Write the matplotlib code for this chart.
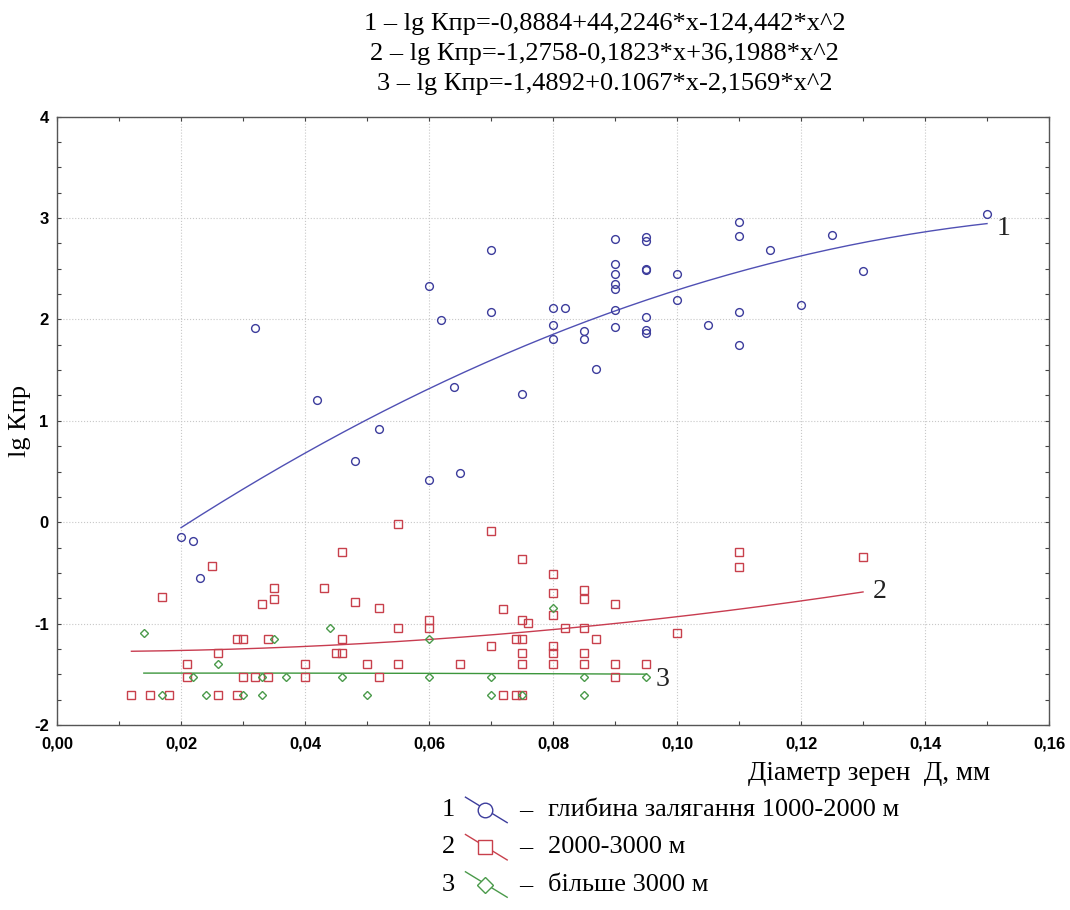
import numpy as np
import matplotlib
matplotlib.use('Agg')
import matplotlib.pyplot as plt
from matplotlib.lines import Line2D
from matplotlib.ticker import MultipleLocator, FuncFormatter

# глибина 1000-2000 м
x1 = [0.020, 0.022, 0.023, 0.032, 0.042, 0.048, 0.052, 0.060, 0.060, 0.062,
      0.064, 0.065, 0.070, 0.070, 0.075, 0.080, 0.080, 0.080, 0.082, 0.085,
      0.085, 0.087, 0.090, 0.090, 0.090, 0.090, 0.090, 0.090, 0.090, 0.095,
      0.095, 0.095, 0.095, 0.095, 0.095, 0.095, 0.100, 0.100, 0.105, 0.110,
      0.110, 0.110, 0.110, 0.115, 0.120, 0.125, 0.130, 0.150]
y1 = [-0.15, -0.19, -0.55, 1.92, 1.21, 0.60, 0.92, 2.33, 0.42, 1.99,
      1.33, 0.49, 2.68, 2.07, 1.26, 2.11, 1.95, 1.81, 2.11, 1.89,
      1.81, 1.51, 2.79, 2.55, 2.45, 2.35, 2.30, 2.09, 1.93, 2.81,
      2.77, 2.50, 2.49, 2.02, 1.90, 1.87, 2.45, 2.19, 1.95, 2.96,
      2.82, 2.07, 1.75, 2.68, 2.14, 2.83, 2.48, 3.04]

# глибина 2000-3000 м
x2 = [0.055, 0.046, 0.025, 0.017, 0.035, 0.035, 0.033, 0.043, 0.048, 0.052,
      0.055, 0.029, 0.030, 0.034, 0.046, 0.026, 0.045, 0.046, 0.021, 0.040,
      0.050, 0.055, 0.021, 0.030, 0.032, 0.034, 0.040, 0.052, 0.012, 0.015,
      0.018, 0.026, 0.029,
      0.070, 0.075, 0.080, 0.080, 0.085, 0.085, 0.090, 0.072, 0.080, 0.075,
      0.076, 0.082, 0.085, 0.060, 0.060, 0.100, 0.074, 0.075, 0.087, 0.070,
      0.080, 0.075, 0.080, 0.085, 0.065, 0.075, 0.080, 0.085, 0.090, 0.095,
      0.090, 0.072, 0.074, 0.075,
      0.110, 0.110, 0.130]
y2 = [-0.02, -0.29, -0.43, -0.74, -0.65, -0.76, -0.81, -0.65, -0.79, -0.85,
      -1.04, -1.15, -1.15, -1.15, -1.15, -1.29, -1.29, -1.29, -1.40, -1.40,
      -1.40, -1.40, -1.53, -1.53, -1.53, -1.53, -1.53, -1.53, -1.70, -1.70,
      -1.70, -1.70, -1.70,
      -0.09, -0.36, -0.51, -0.70, -0.67, -0.76, -0.81, -0.86, -0.92, -0.96,
      -0.99, -1.04, -1.04, -0.96, -1.04, -1.09, -1.15, -1.15, -1.15, -1.22,
      -1.22, -1.29, -1.29, -1.29, -1.40, -1.40, -1.40, -1.40, -1.40, -1.40,
      -1.53, -1.70, -1.70, -1.70,
      -0.29, -0.44, -0.34]

# глибина більше 3000 м
x3 = [0.014, 0.044, 0.035, 0.026, 0.022, 0.033, 0.037, 0.046, 0.017, 0.024,
      0.030, 0.033, 0.050, 0.080, 0.060, 0.060, 0.070, 0.085, 0.095, 0.070,
      0.075, 0.085]
y3 = [-1.09, -1.04, -1.15, -1.40, -1.53, -1.53, -1.53, -1.53, -1.70, -1.70,
      -1.70, -1.70, -1.70, -0.85, -1.15, -1.53, -1.53, -1.53, -1.53, -1.70,
      -1.70, -1.70]

# коефіцієнти поліномів a0 + a1*x + a2*x^2 та межі по x
coef1 = [-0.8884, 44.2246, -124.442]
coef2 = [-1.2758, -0.1823, 36.1988]
coef3 = [-1.4892, 0.1067, -2.1569]
range1 = (0.020, 0.150)
range2 = (0.012, 0.130)
range3 = (0.014, 0.095)

equations = [
    '1 – lg Кпр=-0,8884+44,2246*x-124,442*x^2',
    '2 – lg Кпр=-1,2758-0,1823*x+36,1988*x^2',
    '3 – lg Кпр=-1,4892+0.1067*x-2,1569*x^2',
]
legend_labels = ['глибина залягання 1000-2000 м', '2000-3000 м', 'більше 3000 м']

c_blue = '#3c3c9c'
c_red = '#c8404c'
c_green = '#4a9a4a'
serif = ['Liberation Serif', 'DejaVu Serif']
sans = ['Liberation Sans Narrow', 'Liberation Sans', 'DejaVu Sans']

fig = plt.figure(figsize=(10.7, 9.1), dpi=100)
ax = fig.add_axes([0.0533, 0.2033, 0.9271, 0.6685])

series = [
    (x1, y1, coef1, range1, 'o', c_blue, '#5050b4'),
    (x2, y2, coef2, range2, 's', c_red, '#c83c50'),
    (x3, y3, coef3, range3, 'D', c_green, '#3c963c'),
]
for xs, ys, coef, (xa, xb), mk, mc, lc in series:
    ms = 4.2 if mk == 'D' else 5.6
    ax.plot(xs, ys, linestyle='none', marker=mk, markersize=ms,
            markerfacecolor='none', markeredgecolor=mc, markeredgewidth=1.0, zorder=3)
    xx = np.linspace(xa, xb, 200)
    yy = coef[0] + coef[1] * xx + coef[2] * xx ** 2
    ax.plot(xx, yy, color=lc, linewidth=1.0, zorder=2)

# номери кривих біля кінців ліній
for num, coef, (xa, xb), dy in [('1', coef1, range1, -0.05), ('2', coef2, range2, 0.0),
                                ('3', coef3, range3, -0.05)]:
    yend = coef[0] + coef[1] * xb + coef[2] * xb ** 2
    ax.text(xb + 0.0015, yend + dy, num, fontsize=20, family=serif,
            ha='left', va='center', color='#222222')

ax.set_xlim(0, 0.16)
ax.set_ylim(-2, 4)
ax.xaxis.set_major_locator(MultipleLocator(0.02))
ax.xaxis.set_minor_locator(MultipleLocator(0.01))
ax.yaxis.set_major_locator(MultipleLocator(1))
ax.yaxis.set_minor_locator(MultipleLocator(0.25))
ax.xaxis.set_major_formatter(FuncFormatter(lambda v, p: f'{v:.2f}'.replace('.', ',')))
ax.yaxis.set_major_formatter(FuncFormatter(lambda v, p: f'{v:.0f}'))
ax.tick_params(which='both', direction='in', top=True, right=True, length=3,
               width=0.8, color='#444444')
ax.tick_params(axis='x', which='major', labelsize=12, pad=8)
ax.tick_params(axis='y', which='major', labelsize=12, pad=6)
for lab in ax.get_xticklabels() + ax.get_yticklabels():
    lab.set_family(sans)
    lab.set_fontweight('bold')
ax.grid(which='major', linestyle=':', color='#c8c8c8', linewidth=0.8)
for sp in ax.spines.values():
    sp.set_color('#555555')
    sp.set_linewidth(1.0)

ax.set_ylabel('lg Кпр', fontsize=19, family=serif, labelpad=2)
fig.text(0.925, 0.150, 'Діаметр зерен  Д, мм', fontsize=19.5, family=serif,
         ha='right', va='center')

# рівняння регресії над графіком
for i, eq in enumerate(equations):
    fig.text(0.565, 0.974 - i * 0.033, eq, fontsize=19, family=serif,
             ha='center', va='center')

# умовні позначення під графіком
markers = [('o', c_blue, 10.5), ('s', c_red, 9.5), ('D', c_green, 8.5)]
for i, ((mk, col, msz), lab) in enumerate(zip(markers, legend_labels)):
    yc = 0.110 - i * 0.041
    fig.text(0.419, yc, str(i + 1), fontsize=19, family=serif, ha='center', va='center')
    fig.add_artist(Line2D([0.435, 0.474], [yc + 0.014, yc - 0.014],
                          transform=fig.transFigure, color=col, linewidth=1.0))
    fig.add_artist(Line2D([0.453], [yc], transform=fig.transFigure, marker=mk,
                          markersize=msz, markerfacecolor='white',
                          markeredgecolor=col, markeredgewidth=1.0, linestyle='none'))
    fig.text(0.491, yc, '–', fontsize=19, family=serif, ha='center', va='center')
    fig.text(0.512, yc, lab, fontsize=19, family=serif, ha='left', va='center')

fig.savefig('out.png', dpi=100)
